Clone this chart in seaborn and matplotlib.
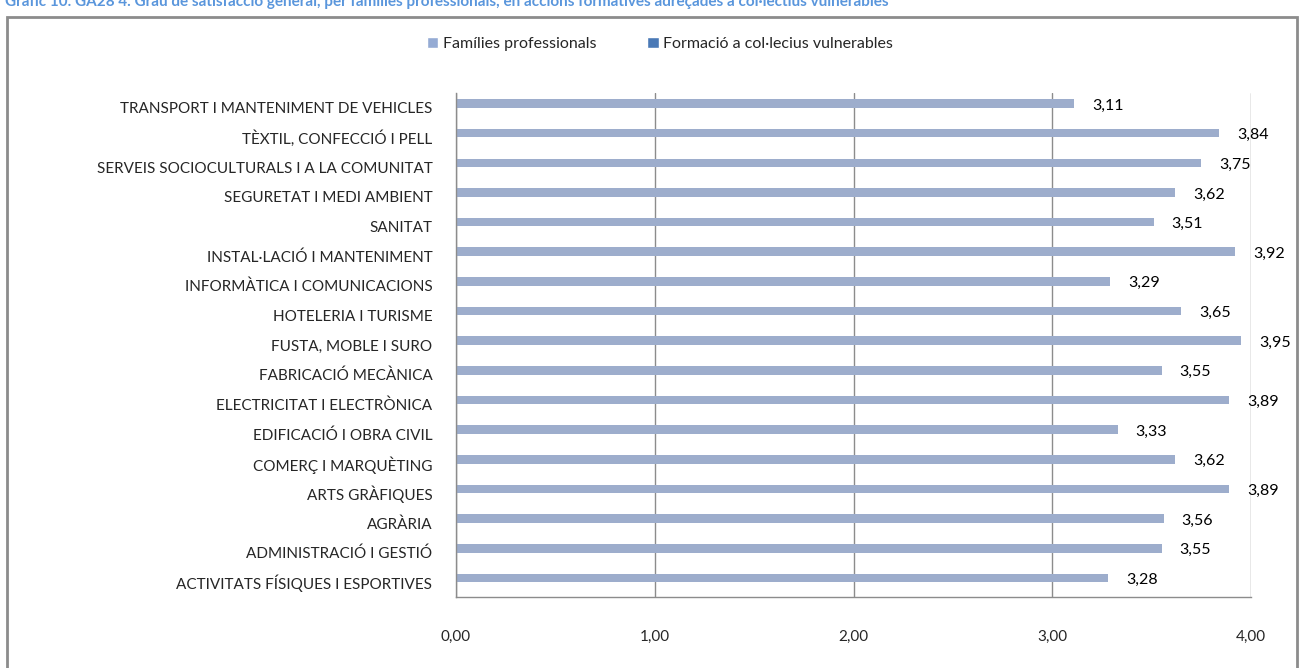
import matplotlib
matplotlib.use("Agg")
import matplotlib.pyplot as plt
import seaborn as sns
import pandas as pd
import numpy as np
from matplotlib.patches import Rectangle, Patch

categories = [
    "ACTIVITATS FÍSIQUES I ESPORTIVES",
    "ADMINISTRACIÓ I GESTIÓ",
    "AGRÀRIA",
    "ARTS GRÀFIQUES",
    "COMERÇ I MARQUÈTING",
    "EDIFICACIÓ I OBRA CIVIL",
    "ELECTRICITAT I ELECTRÒNICA",
    "FABRICACIÓ MECÀNICA",
    "FUSTA, MOBLE I SURO",
    "HOTELERIA I TURISME",
    "INFORMÀTICA I COMUNICACIONS",
    "INSTAL·LACIÓ I MANTENIMENT",
    "SANITAT",
    "SEGURETAT I MEDI AMBIENT",
    "SERVEIS SOCIOCULTURALS I A LA COMUNITAT",
    "TÈXTIL, CONFECCIÓ I PELL",
    "TRANSPORT I MANTENIMENT DE VEHICLES",
]
families = [3.28, 3.55, 3.56, 3.89, 3.62, 3.33, 3.89, 3.55, 3.95, 3.65,
            3.29, 3.92, 3.51, 3.62, 3.75, 3.84, 3.11]
vulnerables = [np.nan] * len(categories)
series_names = ["Famílies professionals", "Formació a col·lecius vulnerables"]
x_ticks = [0, 1, 2, 3, 4]
title = ("Gràfic 10. GA28 4. Grau de satisfacció general, per famílies professionals, "
         "en accions formatives adreçades a col·lectius vulnerables")

colors = ["#95abd4", "#4a79b6"]

df = pd.DataFrame({
    "cat": categories * 2,
    "val": families + vulnerables,
    "series": [series_names[0]] * len(categories) + [series_names[1]] * len(categories),
})

fs = 11

sns.set_style("white")
plt.rcParams["font.family"] = ["Lato", "DejaVu Sans"]

fig = plt.figure(figsize=(13.01, 6.68), dpi=100)
ax = fig.add_axes([456 / 1301, 1 - 597 / 668, (1251 - 456) / 1301, (597 - 93) / 668])

order = categories[::-1]
sns.barplot(data=df, y="cat", x="val", hue="series", hue_order=series_names,
            order=order, palette=colors, orient="h", width=0.58, dodge=True,
            legend=False, linewidth=0, errorbar=None, ax=ax)

ax.set_xlim(0, 4)
ax.set_ylim(len(categories) - 0.5, -0.5)
ax.set_xticks(x_ticks)
ax.set_xticklabels([f"{t:.2f}".replace(".", ",") for t in x_ticks], fontsize=fs)
ax.set_yticks(range(len(categories)))
ax.set_yticklabels(order, fontsize=fs)
ax.set_xlabel("")
ax.set_ylabel("")
ax.xaxis.grid(True, color="#8c8c8c", linewidth=1)
ax.set_axisbelow(True)
for s in ["top", "right"]:
    ax.spines[s].set_visible(False)
for s in ["left", "bottom"]:
    ax.spines[s].set_color("#8c8c8c")
    ax.spines[s].set_linewidth(1)
ax.tick_params(axis="y", length=0, pad=17)
ax.tick_params(axis="x", length=5, color="#8c8c8c", pad=19, direction="out")
ax.set_yticks(np.arange(-0.5, len(categories), 1), minor=True)
ax.tick_params(axis="y", which="minor", length=5, color="#8c8c8c", direction="out")

# value labels
for i, c in enumerate(order):
    v = families[categories.index(c)]
    ax.text(v + 0.09, i - 0.08, f"{v:.2f}".replace(".", ","), va="center", ha="left",
            fontsize=fs + 0.5, color="#000000")

# legend
handles = [Patch(facecolor=colors[0]), Patch(facecolor=colors[1])]
fig.legend(handles, series_names, loc="center", bbox_to_anchor=(660 / 1301, 1 - 44 / 668),
           ncol=2, frameon=False, fontsize=fs + 0.5, handlelength=0.7, handleheight=0.7,
           handletextpad=0.3, columnspacing=3.2)

# outer frame
fig.patches.append(Rectangle((7 / 1301, -0.05), (1297 - 7) / 1301, 1.05 - 17 / 668,
                             transform=fig.transFigure, fill=False,
                             edgecolor="#8c8c8c", linewidth=2))

# title (cut off at the top edge as in the reference)
fig.text(5 / 1301, 1 - 6 / 668, title, ha="left", va="baseline", fontsize=11,
         fontweight="bold", color="#5a96dc")

fig.savefig("out.png", dpi=100)
